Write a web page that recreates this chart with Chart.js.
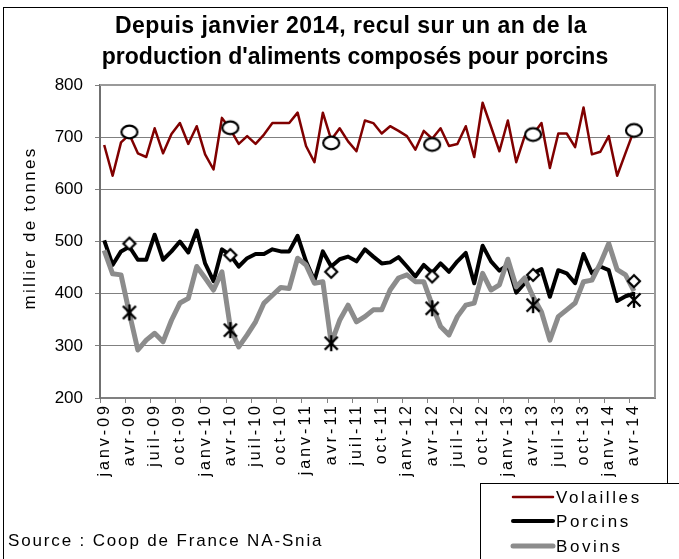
<!DOCTYPE html>
<html>
<head>
<meta charset="utf-8">
<script src="https://cdn.jsdelivr.net/npm/chart.js@4.4.1/dist/chart.umd.min.js"></script>
<style>
  body { margin: 0; background: #fff; }
  canvas { display: block; }
</style>
</head>
<body>
<canvas id="myChart" width="679" height="559"></canvas>
<script>
// categories : janv-09 .. juin-14 (last two months empty)
const monthNames = ['janv', 'févr', 'mars', 'avr', 'mai', 'juin', 'juil', 'août', 'sept', 'oct', 'nov', 'déc'];
const years = ['09', '10', '11', '12', '13', '14'];
const categories = [];
years.forEach(y => monthNames.forEach(m => categories.push(m + '-' + y)));
categories.length = 66;

// series values (milliers de tonnes)
const volailles = [685, 626, 690, 705, 669, 662, 717, 669, 706, 727, 687, 721,
  667, 638, 737, 715, 687, 702, 687, 705, 727, 727, 727, 747,
  683, 652, 747, 695, 717, 692, 673, 732, 727, 707, 721, 712,
  702, 676, 712, 697, 717, 683, 687, 721, 662, 766, 720, 673,
  732, 652, 702, 705, 727, 641, 707, 707, 681, 757, 667, 672,
  702, 626, 670, 713, null, null];
const porcins = [502, 455, 481, 490, 465, 465, 513, 465, 481, 500, 479, 521,
  458, 424, 485, 474, 452, 468, 476, 476, 485, 481, 481, 511,
  462, 425, 481, 452, 466, 471, 462, 485, 471, 458, 460, 470,
  452, 433, 455, 440, 458, 442, 462, 478, 420, 492, 462, 444,
  455, 402, 420, 439, 447, 394, 445, 439, 420, 476, 439, 452,
  445, 386, 395, 400, null, null];
const bovins = [483, 438, 436, 362, 292, 311, 324, 308, 349, 382, 391, 452,
  430, 407, 442, 335, 298, 321, 346, 382, 397, 412, 410, 468,
  455, 420, 423, 305, 349, 378, 346, 356, 369, 369, 407, 430,
  436, 423, 423, 378, 337, 321, 356, 378, 382, 439, 407, 417,
  466, 413, 430, 394, 365, 311, 356, 369, 382, 423, 426, 458,
  496, 446, 436, 405, null, null];

// April markers
const markerMonths = ['avr-09', 'avr-10', 'avr-11', 'avr-12', 'avr-13', 'avr-14'];
const volaillesAvr = [710, 718, 689, 686, 705, 713];
const porcinsAvr = [496, 474, 442, 433, 436, 424];
const bovinsAvr = [364, 330, 305, 372, 378, 388];

const yTicks = [200, 300, 400, 500, 600, 700, 800];

function markerData(values) {
  return categories.map(c => {
    const k = markerMonths.indexOf(c);
    return k >= 0 ? values[k] : null;
  });
}

// marker images
function makeCanvas(w, h, draw) {
  const c = document.createElement('canvas');
  c.width = w; c.height = h;
  const g = c.getContext('2d');
  g.strokeStyle = '#000';
  g.fillStyle = '#fff';
  g.lineWidth = 2.2;
  draw(g);
  return c;
}
const ellipseImg = makeCanvas(22, 18, g => {
  g.beginPath();
  g.ellipse(11, 9, 8, 6.3, 0, 0, Math.PI * 2);
  g.fill(); g.stroke();
});
const diamondImg = makeCanvas(18, 18, g => {
  g.beginPath();
  g.moveTo(9, 3); g.lineTo(15, 9); g.lineTo(9, 15); g.lineTo(3, 9); g.closePath();
  g.fill(); g.stroke();
});
const starImg = makeCanvas(20, 20, g => {
  g.lineWidth = 2.4;
  g.beginPath();
  g.moveTo(3.5, 3.5); g.lineTo(16.5, 16.5);
  g.moveTo(3.5, 16.5); g.lineTo(16.5, 3.5);
  g.moveTo(10, 2); g.lineTo(10, 18);
  g.stroke();
});

const FONT = "'Liberation Sans', Arial, sans-serif";

// wider letter spacing on the rotated month labels
const spacedLabels = {
  id: 'spacedLabels',
  beforeDraw(chart) {
    const s = chart.scales.x;
    if (s._spaced) return;
    const orig = s.drawLabels;
    s.drawLabels = function (area) {
      const c = this.ctx;
      c.save();
      c.letterSpacing = '3px';
      orig.call(this, area);
      c.restore();
    };
    s._spaced = true;
  }
};

// titles, frame, legend and source
const decorations = {
  id: 'decorations',
  afterDraw(chart) {
    const ctx = chart.ctx;
    const a = chart.chartArea;
    ctx.save();
    // plot area border (top, right)
    ctx.strokeStyle = '#9a9a9a';
    ctx.lineWidth = 2;
    ctx.beginPath();
    ctx.moveTo(a.left, a.top); ctx.lineTo(a.right, a.top); ctx.lineTo(a.right, a.bottom);
    ctx.stroke();

    // outer frame
    ctx.strokeStyle = '#000';
    ctx.lineWidth = 1;
    ctx.strokeRect(3.5, 7.5, 664, 600);

    // title
    ctx.letterSpacing = '0.5px';
    ctx.fillStyle = '#000';
    ctx.font = 'bold 23px ' + FONT;
    ctx.textAlign = 'center';
    ctx.textBaseline = 'middle';
    ctx.fillText('Depuis janvier 2014, recul sur un an de la', 351, 27);
    ctx.letterSpacing = '0px';
    ctx.fillText("production d'aliments composés pour porcins", 355, 58);

    // y axis title
    ctx.letterSpacing = '2.3px';
    ctx.font = '17px ' + FONT;
    ctx.save();
    ctx.translate(30, 228);
    ctx.rotate(-Math.PI / 2);
    ctx.fillText('millier de tonnes', 0, 0);
    ctx.restore();

    // source
    ctx.letterSpacing = '1.85px';
    ctx.textAlign = 'left';
    ctx.fillText('Source : Coop de France NA-Snia', 8, 541);

    // legend
    ctx.fillStyle = '#fff';
    ctx.fillRect(480, 483, 200, 80);
    ctx.strokeRect(480.5, 483.5, 200, 80);
    ctx.letterSpacing = '2.6px';
    const rows = [497, 521, 546];
    chart.data.datasets.filter(d => d.inLegend).forEach((d, i) => {
      ctx.strokeStyle = d.borderColor;
      ctx.lineWidth = d.borderWidth;
      ctx.lineCap = 'round';
      ctx.beginPath();
      ctx.moveTo(513, rows[i]); ctx.lineTo(553, rows[i]);
      ctx.stroke();
      ctx.fillStyle = '#000';
      ctx.fillText(d.label, 556, rows[i] + 1);
    });
    ctx.restore();
  }
};

const config = {
  type: 'line',
  data: {
    labels: categories,
    datasets: [
      { label: 'Volailles avr', data: markerData(volaillesAvr), showLine: false,
        pointStyle: ellipseImg, pointRadius: 6, order: 0 },
      { label: 'Porcins avr', data: markerData(porcinsAvr), showLine: false,
        pointStyle: diamondImg, pointRadius: 6, order: 0 },
      { label: 'Bovins avr', data: markerData(bovinsAvr), showLine: false,
        pointStyle: starImg, pointRadius: 6, order: 0 },
      { label: 'Volailles', data: volailles, borderColor: '#800000', borderWidth: 2.5,
        pointRadius: 0, order: 3, inLegend: true },
      { label: 'Porcins', data: porcins, borderColor: '#000000', borderWidth: 4,
        pointRadius: 0, order: 2, inLegend: true },
      { label: 'Bovins', data: bovins, borderColor: '#8c8c8c', borderWidth: 5,
        pointRadius: 0, order: 1, inLegend: true }
    ]
  },
  options: {
    responsive: false,
    animation: false,
    layout: { padding: { top: 85, right: 24, bottom: 0, left: 0 } },
    elements: { line: { tension: 0, borderJoinStyle: 'round' } },
    plugins: {
      legend: { display: false },
      title: { display: false },
      tooltip: { enabled: false }
    },
    scales: {
      x: {
        type: 'category',
        offset: true,
        afterFit(scale) { scale.height = 161; },
        grid: {
          offset: true,
          drawOnChartArea: false,
          drawTicks: true,
          tickLength: 5,
          color: c => (c.index % 3 === 0 ? '#808080' : 'rgba(0,0,0,0)')
        },
        border: { color: '#808080', width: 2 },
        ticks: {
          autoSkip: false,
          minRotation: 90,
          maxRotation: 90,
          padding: 0,
          color: '#000',
          font: { family: FONT, size: 16 },
          callback: (v, i) => (i % 3 === 0 ? categories[i] : '')
        }
      },
      y: {
        min: 200,
        max: 800,
        afterFit(scale) { scale.width = 100; },
        afterBuildTicks(scale) { scale.ticks = yTicks.map(v => ({ value: v })); },
        grid: { color: '#808080', lineWidth: 1, tickLength: 5 },
        border: { color: '#707070', width: 2 },
        ticks: {
          padding: 12,
          color: '#000',
          font: { family: FONT, size: 17 }
        }
      }
    }
  },
  plugins: [spacedLabels, decorations]
};

const myChart = new Chart(document.getElementById('myChart'), config);
</script>
</body>
</html>
